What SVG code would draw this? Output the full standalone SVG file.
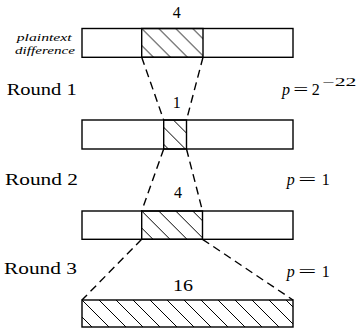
<svg xmlns="http://www.w3.org/2000/svg" width="358" height="330" viewBox="0 0 358 330">
<style>
.bar{fill:#fff;stroke:#000;stroke-width:1.4}
.hb{fill:url(#hatch);stroke:#000;stroke-width:1.4}
.dash{fill:none;stroke:#000;stroke-width:1.4;stroke-dasharray:8 5}
text{font-family:'Liberation Serif','DejaVu Serif',serif;fill:#000}
.lbl{font-size:16px}
.it{font-style:italic}
.sm{font-size:11px;font-style:italic}
</style>
<defs>
<pattern id="hatch" patternUnits="userSpaceOnUse" x="0" y="0" width="17" height="17">
<path d="M-2,-2 L19,19 M15,-2 L19,2 M-2,15 L2,19" stroke="#000" stroke-width="1" fill="none"/>
</pattern>
</defs>
<rect width="358" height="330" fill="#fff"/>
<g id="connectors">
<line class="dash" x1="141.7" y1="57.3" x2="163.7" y2="120"/>
<line class="dash" x1="203" y1="57.3" x2="186.5" y2="120"/>
<line class="dash" x1="163.7" y1="149" x2="141.7" y2="211"/>
<line class="dash" x1="186.5" y1="149" x2="202.5" y2="211"/>
<line class="dash" x1="141.7" y1="239.3" x2="82" y2="300"/>
<line class="dash" x1="202.5" y1="239.3" x2="293" y2="300"/>
</g>
<g id="state0">
<rect class="bar" x="82" y="28.5" width="211" height="28.8"/>
<g transform="translate(141.7,28.5)"><rect class="hb" x="0" y="0" width="61.3" height="28.8"/></g>
<text class="lbl" x="176.7" y="18" text-anchor="middle">4</text>
<text class="sm" x="16.7" y="40.5" textLength="55" lengthAdjust="spacingAndGlyphs">plaintext</text>
<text class="sm" x="15" y="54" textLength="60" lengthAdjust="spacingAndGlyphs">difference</text>
</g>
<g id="state1">
<rect class="bar" x="82" y="120" width="211" height="29"/>
<g transform="translate(156.4,120)"><rect class="hb" x="7.3" y="0" width="22.8" height="29"/></g>
<text class="lbl" x="176.7" y="108" text-anchor="middle">1</text>
</g>
<g id="state2">
<rect class="bar" x="82" y="211" width="211" height="28.3"/>
<g transform="translate(141.7,211)"><rect class="hb" x="0" y="0" width="60.8" height="28.3"/></g>
<text class="lbl" x="178" y="198" text-anchor="middle">4</text>
</g>
<g id="state3">
<g transform="translate(82,300)"><rect class="hb" x="0" y="0" width="211" height="27"/></g>
<text class="lbl" x="173" y="290.5" textLength="20" lengthAdjust="spacingAndGlyphs">16</text>
</g>
<g id="round1">
<text class="lbl" x="6.7" y="95" textLength="70" lengthAdjust="spacingAndGlyphs">Round 1</text>
<text class="lbl it" x="282" y="95">p</text>
<text class="lbl" x="293.3" y="95" textLength="15" lengthAdjust="spacingAndGlyphs">=</text>
<text class="lbl" x="311.7" y="95">2</text>
<text x="322.5" y="86" font-size="12" textLength="34" lengthAdjust="spacingAndGlyphs">−22</text>
</g>
<g id="round2">
<text class="lbl" x="5" y="185" textLength="73" lengthAdjust="spacingAndGlyphs">Round 2</text>
<text class="lbl it" x="286.7" y="185">p</text>
<text class="lbl" x="298.3" y="185" textLength="18" lengthAdjust="spacingAndGlyphs">=</text>
<text class="lbl" x="321.7" y="185">1</text>
</g>
<g id="round3">
<text class="lbl" x="4" y="274" textLength="73" lengthAdjust="spacingAndGlyphs">Round 3</text>
<text class="lbl it" x="286.7" y="277">p</text>
<text class="lbl" x="298.3" y="277" textLength="18" lengthAdjust="spacingAndGlyphs">=</text>
<text class="lbl" x="321.7" y="277">1</text>
</g>
</svg>
